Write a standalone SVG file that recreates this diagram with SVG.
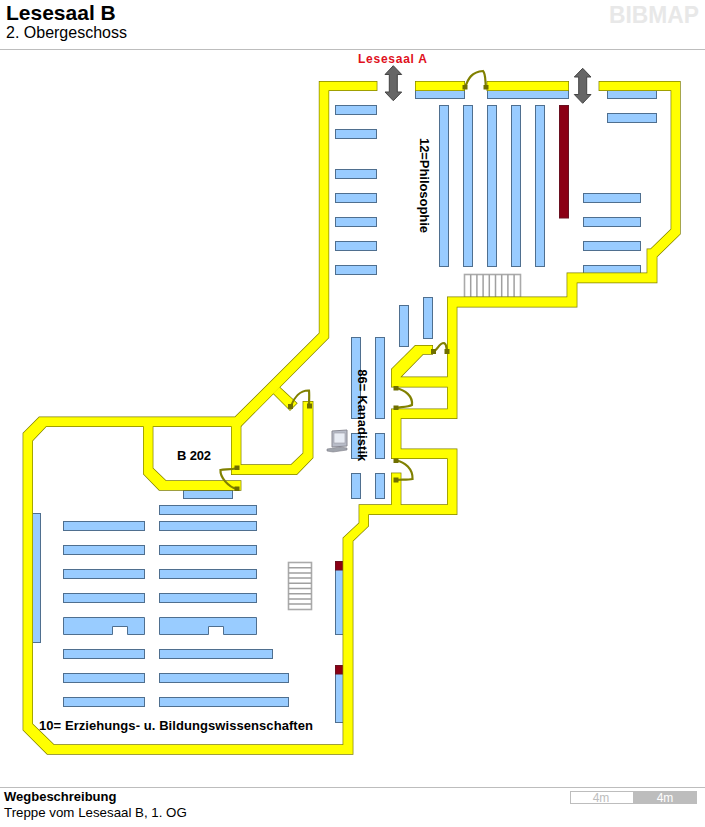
<svg xmlns="http://www.w3.org/2000/svg" xmlns:xlink="http://www.w3.org/1999/xlink" width="705" height="827" viewBox="0 0 705 827">
<style>
text{font-family:"Liberation Sans",Arial,sans-serif;fill:#000}
.b{font-weight:bold;font-size:13px}
.s{fill:#99ccff;stroke:#4f6f8f;stroke-width:1}
.r{fill:#8b0015;stroke:#6a1020;stroke-width:1}
.wo{fill:#808000;stroke:#808000;stroke-width:1.4;stroke-linejoin:miter}
.wf{fill:#ffff00}
.d{fill:none;stroke:#808000;stroke-width:2.2}
.h{fill:#6f6f00}
.st{fill:#fff;stroke:#aaaaaa;stroke-width:1.6}
.stl{stroke:#a0a0a0;stroke-width:1.5}
.ar{fill:#666;stroke:#444;stroke-width:1}
</style>
<defs>
<g id="walls">
<polygon points="376.7,81.7 319.5,81.7 319.5,333.3 235,417.3 39.3,417.3 23.3,433.3 23.3,730 47.3,754 352.7,754 352.7,541 368.3,526 368.3,514.3 456.7,514.3 456.7,449.3 400.7,449.3 400.7,418.3 456.7,418.3 456.7,306.7 576.7,306.7 576.7,282.5 656.7,282.5 656.7,256.7 680,234 680,81.7 599.3,81.7 599.3,90.3 671.3,90.3 671.3,229.3 650.7,249.3 647.3,249.3 647.3,273.3 567.3,273.3 567.3,297.3 447.7,297.3 447.7,409.3 391.7,409.3 391.7,458.3 447.7,458.3 447.7,505 359.3,505 359.3,523 343.3,538 343.3,745 54,745 32.3,724 32.3,440.7 46,426.3 240.7,426.3 328.5,337.7 328.5,90.3 376.7,90.3"/>
<rect x="415.7" y="81.7" width="48.6" height="8.6"/>
<rect x="487.3" y="81.7" width="81" height="8.6"/>
<rect x="391.7" y="473.3" width="9" height="36"/>
<polygon points="452,377.3 400.3,377.3 423,354 432.3,354 432.3,345.7 415.3,345.7 391.7,369.3 391.7,386.7 452,386.7"/>
<polygon points="143.7,422 143.7,474 159.3,490 240.7,490 240.7,481 166,481 152.7,468.3 152.7,422"/>
<polygon points="231.7,422 231.7,474.3 296.7,474.3 312.7,457.7 312.7,401.7 303.3,401.7 303.3,453.3 291,465 240.7,465 240.7,422"/>
<polygon points="273.3,393.3 279.3,387.3 296.7,403.3 290,410"/>
</g>
</defs>

<g id="header">
<text x="6" y="20" style="font-size:21px;font-weight:bold">Lesesaal B</text>
<text x="6" y="38" style="font-size:16px">2. Obergeschoss</text>
<text x="609" y="23" textLength="90" lengthAdjust="spacingAndGlyphs" style="font-size:24px;font-weight:bold;fill:#e8e8e8">BIBMAP</text>
<line x1="0" y1="49.5" x2="705" y2="49.5" stroke="#bdbdbd"/>
</g>

<g id="shelves">
<rect class="s" x="335.5" y="105.5" width="41" height="9"/>
<rect class="s" x="335.5" y="129.5" width="41" height="9"/>
<rect class="s" x="335.5" y="169.5" width="41" height="9"/>
<rect class="s" x="335.5" y="193.5" width="41" height="9"/>
<rect class="s" x="335.5" y="217.5" width="41" height="9"/>
<rect class="s" x="335.5" y="241.5" width="41" height="9"/>
<rect class="s" x="335.5" y="265.5" width="41" height="9"/>
<rect class="s" x="415.5" y="90.5" width="49" height="8"/>
<rect class="s" x="487.5" y="90.5" width="81" height="8"/>
<rect class="s" x="607.5" y="90.5" width="49" height="8"/>
<rect class="s" x="607.5" y="113.5" width="49" height="9"/>
<rect class="s" x="439.5" y="105.5" width="9" height="161"/>
<rect class="s" x="463.5" y="105.5" width="9" height="161"/>
<rect class="s" x="487.5" y="105.5" width="9" height="161"/>
<rect class="s" x="511.5" y="105.5" width="9" height="161"/>
<rect class="s" x="535.5" y="105.5" width="9" height="161"/>
<rect class="r" x="559.5" y="105.5" width="9" height="112.500"/>
<rect class="s" x="583.5" y="193.500" width="57" height="9"/>
<rect class="s" x="583.5" y="217.5" width="57" height="9"/>
<rect class="s" x="583.5" y="241.5" width="57" height="9"/>
<rect class="s" x="583.5" y="265.5" width="57" height="8"/>
<rect class="s" x="399.5" y="305.5" width="9" height="41"/>
<rect class="s" x="423.5" y="297.5" width="9" height="41"/>
<rect class="s" x="351.5" y="337.5" width="9" height="81"/>
<rect class="s" x="375.5" y="337.5" width="9" height="81"/>
<rect class="s" x="351.5" y="433.5" width="9" height="25"/>
<rect class="s" x="375.5" y="433.5" width="9" height="25"/>
<rect class="s" x="351.5" y="473.5" width="9" height="25"/>
<rect class="s" x="375.5" y="473.5" width="9" height="25"/>
<rect class="s" x="183.5" y="490.5" width="49" height="8"/>
<rect class="s" x="159.5" y="505.5" width="97" height="9"/>
<rect class="s" x="63.5" y="521.5" width="81" height="9"/>
<rect class="s" x="159.5" y="521.5" width="97" height="9"/>
<rect class="s" x="63.5" y="545.5" width="81" height="9"/>
<rect class="s" x="159.5" y="545.5" width="97" height="9"/>
<rect class="s" x="63.5" y="569.5" width="81" height="9"/>
<rect class="s" x="159.5" y="569.5" width="97" height="9"/>
<rect class="s" x="63.5" y="593.5" width="81" height="9"/>
<rect class="s" x="159.5" y="593.5" width="97" height="9"/>
<polygon class="s" points="63.5,617.500 144.5,617.500 144.5,634.500 127.5,634.500 127.5,626.500 112.5,626.500 112.5,634.500 63.5,634.500"/>
<polygon class="s" points="159.500,617.500 256.500,617.500 256.500,634.500 223.500,634.500 223.500,626.500 208.500,626.500 208.500,634.500 159.500,634.500"/>
<rect class="s" x="63.5" y="649.5" width="81" height="9"/>
<rect class="s" x="159.5" y="649.5" width="113" height="9"/>
<rect class="s" x="63.5" y="673.5" width="81" height="9"/>
<rect class="s" x="159.5" y="673.5" width="129" height="9"/>
<rect class="s" x="63.5" y="697.5" width="81" height="9"/>
<rect class="s" x="159.5" y="697.5" width="129" height="9"/>
<rect class="s" x="32.5" y="513.5" width="8" height="129"/>
<rect class="s" x="335.5" y="561.5" width="8" height="73"/>
<rect class="r" x="335.5" y="561.5" width="8" height="8.5"/>
<rect class="s" x="335.5" y="665.5" width="8" height="57"/>
<rect class="r" x="335.5" y="665.5" width="8" height="8.5"/>
</g>

<g id="stairs-top">
<rect class="st" x="464.500" y="274.500" width="56" height="23"/>
<path class="stl" d="M470.700 274.500V297.500M476.900 274.500V297.500M483.100 274.500V297.500M489.300 274.500V297.500M495.500 274.500V297.500M501.700 274.500V297.500M507.900 274.500V297.500M514.100 274.500V297.500"/>
</g>
<g id="stairs-bottom">
<rect class="st" x="288.500" y="562.500" width="23" height="47"/>
<path class="stl" d="M288.500 567.700H311.500M288.500 572.900H311.500M288.500 578.100H311.500M288.500 583.300H311.500M288.500 588.500H311.500M288.500 593.700H311.500M288.500 598.900H311.500M288.500 604.100H311.500"/>
</g>

<g id="connectors">
<g id="walls-outline" class="wo"><use xlink:href="#walls" href="#walls"/></g>
<g id="walls-fill" class="wf"><use xlink:href="#walls" href="#walls"/></g>
<g id="doors">
<path class="d" d="M465 88C468 78 472 72 483 71C486 74 485 82 486 87"/>
<rect class="h" x="462.500" y="85" width="5" height="4.500"/><rect class="h" x="483.500" y="85" width="5" height="4.500"/>
<path class="d" d="M291 406C294 398 300 390 309 390.500C309.500 395 309 401 309 406"/>
<rect class="h" x="288" y="404" width="5" height="5"/><rect class="h" x="307" y="403.500" width="5" height="5"/>
<path class="d" d="M433 351C438 351 438 343 444 343C447 344 446 348 447 351"/>
<rect class="h" x="431" y="349" width="5" height="5"/><rect class="h" x="444.500" y="349" width="5" height="5"/>
<path class="d" d="M396 388C405 390 413 396 412 405C408 407 401 407 396 408"/>
<rect class="h" x="393.500" y="386" width="5" height="4.500"/><rect class="h" x="393.500" y="405.500" width="5" height="4.500"/>
<path class="d" d="M396 460.500C405 462 413 469 412.500 479C408 480 401 479.500 396 480"/>
<rect class="h" x="393.500" y="458.500" width="5" height="4.500"/><rect class="h" x="393.500" y="477.500" width="5" height="5"/>
<path class="d" d="M237 468C231 470 225 469 220.500 470C220 477 228 487 237 489"/>
<rect class="h" x="234.500" y="465.500" width="5" height="4.500"/><rect class="h" x="234.500" y="486.500" width="5" height="4.500"/>
</g>
<polygon id="arrow-a" class="ar" points="393.300,65.700 401.700,74.500 397.300,74.500 397.300,92 401.700,92 393.300,100.700 385,92 389.300,92 389.300,74.500 385,74.500"/>
<polygon id="arrow-b" class="ar" points="582.700,68.300 591,77 586.700,77 586.700,94.500 591,94.500 582.700,103.300 574.300,94.500 578.700,94.500 578.700,77 574.300,77"/>
</g>

<g id="computer">
<polygon points="332,431 347,430 347,446 332,447" fill="#b8bcc8" stroke="#8a8a94"/>
<rect x="334" y="433" width="11" height="10" fill="#e8ecf4" stroke="#9a9aa4" stroke-width="0.6"/>
<polygon points="327,449 340,447 347,448 347,450 333,452 327,451" fill="#a0a4ac" stroke="#80808a" stroke-width="0.6"/>
</g>

<g id="labels">
<text x="358" y="63" textLength="69" lengthAdjust="spacing" style="font-weight:bold;font-size:12px;fill:#e01020">Lesesaal A</text>
<text class="b" transform="translate(419.500 138) rotate(90)" textLength="95" lengthAdjust="spacing">12=Philosophie</text>
<text class="b" transform="translate(358.300 369.300) rotate(90)" textLength="92" lengthAdjust="spacing">86= Kanadistik</text>
<text class="b" x="177" y="460" textLength="34" lengthAdjust="spacing">B 202</text>
<text class="b" x="39" y="730" textLength="274" lengthAdjust="spacing">10= Erziehungs- u. Bildungswissenschaften</text>
</g>

<g id="footer">
<line x1="0" y1="787.5" x2="705" y2="787.5" stroke="#bdbdbd"/>
<text class="b" x="4" y="801">Wegbeschreibung</text>
<text x="4" y="817" style="font-size:13.300px">Treppe vom Lesesaal B, 1. OG</text>
<rect x="570.500" y="791.500" width="63" height="12" fill="#fff" stroke="#bdbdbd"/>
<rect x="633" y="791" width="64" height="13" fill="#bdbdbd"/>
<text x="601" y="802" text-anchor="middle" style="font-size:12px;fill:#bdbdbd">4m</text>
<text x="665" y="802" text-anchor="middle" style="font-size:12px;fill:#fff">4m</text>
</g>
</svg>
